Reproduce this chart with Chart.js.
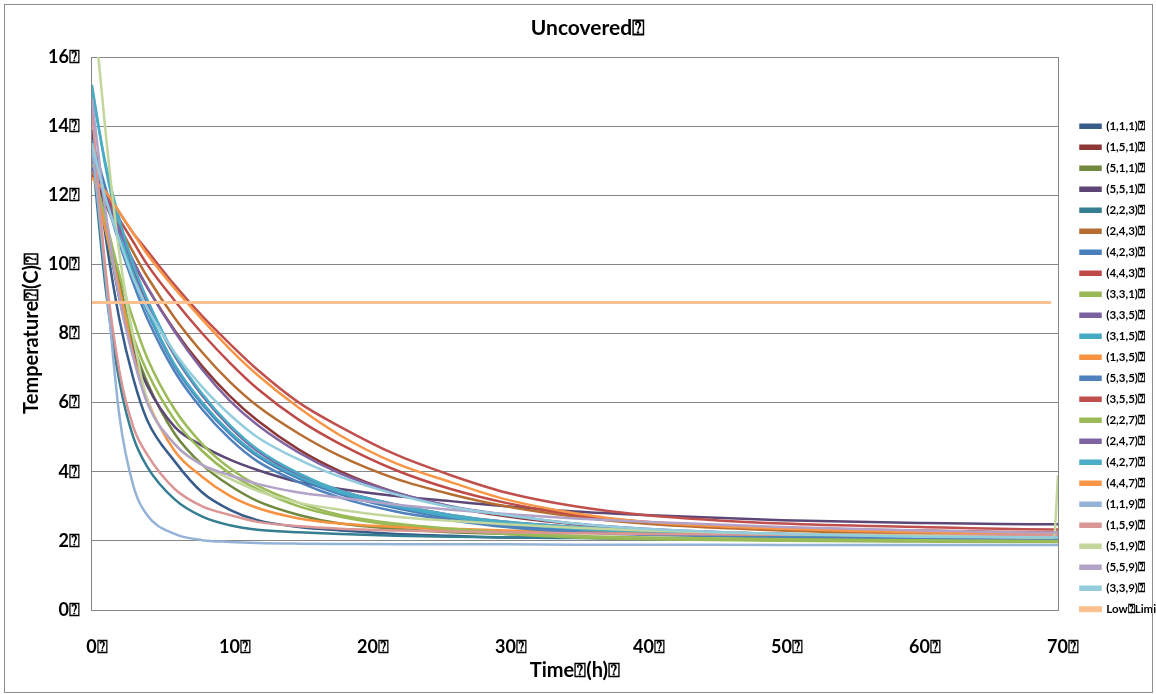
<!DOCTYPE html>
<html>
<head>
<meta charset="utf-8">
<script src="https://cdn.jsdelivr.net/npm/chart.js@4.4.1/dist/chart.umd.min.js"></script>
<style>
  html, body { margin: 0; padding: 0; background: #fff; }
  #wrap { position: relative; width: 1156px; height: 694px; }
  #frame { position: absolute; left: 4px; top: 4px; width: 1147px; height: 687px; border: 1px solid #8c8c8c; pointer-events: none; }
</style>
</head>
<body>
<div id="wrap">
  <canvas id="chart" width="1156" height="694"></canvas>
  <div id="frame"></div>
</div>
<script>
const Q = '\u2370';

// time (h) shared by all runs
const times = [0, 1, 2, 3, 4, 6, 8, 10, 12, 15, 18, 22, 26, 30, 35, 40, 50, 60, 69.7, 70];

const seriesNames = ['(1,1,1)', '(1,5,1)', '(5,1,1)', '(5,5,1)', '(2,2,3)', '(2,4,3)', '(4,2,3)', '(4,4,3)',
  '(3,3,1)', '(3,3,5)', '(3,1,5)', '(1,3,5)', '(5,3,5)', '(3,5,5)', '(2,2,7)', '(2,4,7)', '(4,2,7)', '(4,4,7)',
  '(1,1,9)', '(1,5,9)', '(5,1,9)', '(5,5,9)', '(3,3,9)'];

const colors = ['#385D8A', '#8C3836', '#71893F', '#5C4776', '#357D91', '#B66D31', '#4A7EBB', '#BE4B48',
  '#98B954', '#7D60A0', '#46AAC5', '#F69240', '#4F81BD', '#C0504D', '#9BBB59', '#8064A2', '#4BACC6', '#F79646',
  '#95B3D7', '#D99694', '#C3D69B', '#B3A2C7', '#93CDDD'];

const s111 = [13.9, 10.8, 8.4, 6.7, 5.5, 4.3, 3.4, 2.9, 2.6, 2.4, 2.3, 2.2, 2.15, 2.1, 2.1, 2.05, 2.05, 2.05, 2.05, 2.05];
const s151 = [12.7, 11.74, 10.87, 10.06, 9.34, 8.09, 7.05, 6.19, 5.48, 4.64, 4.01, 3.4, 2.99, 2.71, 2.48, 2.34, 2.19, 2.13, 2.12, 2.12];
const s511 = [13.0, 11.2, 9.5, 7.7, 6.6, 5.1, 4.2, 3.6, 3.15, 2.75, 2.5, 2.35, 2.25, 2.2, 2.12, 2.08, 2.02, 2.0, 2.0, 2.0];
const s551 = [13.8, 11.2, 9.0, 7.5, 6.5, 5.3, 4.75, 4.35, 4.05, 3.7, 3.5, 3.3, 3.15, 3.0, 2.85, 2.75, 2.6, 2.52, 2.48, 2.48];
const s223 = [13.3, 9.3, 6.6, 5.0, 4.15, 3.2, 2.7, 2.45, 2.32, 2.25, 2.2, 2.15, 2.12, 2.1, 2.08, 2.06, 2.04, 2.03, 2.02, 2.02];
const s243 = [12.8, 11.9, 11.1, 10.35, 9.65, 8.45, 7.45, 6.6, 5.9, 5.1, 4.45, 3.8, 3.35, 3.0, 2.7, 2.5, 2.3, 2.22, 2.2, 2.2];
const s423 = [13.6, 12.2, 10.85, 9.65, 8.65, 7.05, 5.95, 5.1, 4.45, 3.8, 3.35, 2.95, 2.65, 2.45, 2.3, 2.22, 2.12, 2.08, 2.06, 2.06];
const s443 = [12.7, 12.0, 11.3, 10.65, 10.0, 8.95, 8.0, 7.15, 6.4, 5.5, 4.8, 4.05, 3.5, 3.1, 2.75, 2.55, 2.35, 2.3, 2.25, 2.25];
const s331 = [13.0, 11.0, 9.2, 7.9, 6.9, 5.5, 4.6, 3.95, 3.5, 3.0, 2.7, 2.45, 2.3, 2.2, 2.1, 2.05, 2.0, 1.98, 1.97, 1.97];
const s335 = [13.0, 12.0, 10.9, 9.85, 8.9, 7.35, 6.2, 5.3, 4.6, 3.9, 3.45, 3.05, 2.75, 2.55, 2.4, 2.3, 2.2, 2.15, 2.12, 2.12];
const s315 = [15.2, 12.8, 11.0, 9.7, 8.7, 7.1, 6.0, 5.15, 4.5, 3.85, 3.4, 3.0, 2.7, 2.5, 2.35, 2.25, 2.15, 2.1, 2.08, 2.08];
const s135 = [12.8, 11.0, 9.3, 7.4, 6.1, 4.6, 3.85, 3.3, 2.95, 2.65, 2.5, 2.4, 2.35, 2.3, 2.25, 2.2, 2.18, 2.16, 2.15, 2.15];
const s535 = [13.3, 11.9, 10.6, 9.45, 8.45, 6.9, 5.8, 4.95, 4.3, 3.7, 3.25, 2.85, 2.6, 2.4, 2.25, 2.18, 2.1, 2.06, 2.05, 2.05];
const s355 = [12.6, 12.1, 11.5, 10.9, 10.4, 9.4, 8.5, 7.7, 6.95, 6.0, 5.3, 4.5, 3.9, 3.4, 3.0, 2.75, 2.5, 2.4, 2.33, 2.33];
const s227 = [12.9, 11.3, 9.7, 8.4, 7.3, 5.8, 4.8, 4.1, 3.6, 3.1, 2.75, 2.5, 2.35, 2.25, 2.15, 2.1, 2.05, 2.02, 2.0, 2.0];
const s247 = [12.8, 11.9, 11.0, 10.1, 9.35, 8.05, 6.95, 6.05, 5.35, 4.55, 3.95, 3.4, 3.0, 2.75, 2.5, 2.35, 2.2, 2.15, 2.12, 2.12];
const s427 = [15.0, 12.9, 11.3, 10.0, 9.0, 7.4, 6.25, 5.35, 4.65, 3.95, 3.45, 3.05, 2.75, 2.55, 2.4, 2.3, 2.2, 2.15, 2.12, 2.12];
const s447 = [12.5, 12.1, 11.5, 10.9, 10.3, 9.3, 8.4, 7.55, 6.8, 5.85, 5.05, 4.25, 3.7, 3.2, 2.8, 2.55, 2.35, 2.25, 2.2, 2.2];
const s119 = [13.5, 9.6, 5.6, 3.6, 2.75, 2.2, 2.02, 1.97, 1.94, 1.92, 1.91, 1.9, 1.9, 1.9, 1.89, 1.89, 1.88, 1.88, 1.88, 1.88];
const s159 = [14.5, 9.8, 6.9, 5.3, 4.5, 3.5, 3.0, 2.75, 2.55, 2.42, 2.35, 2.3, 2.27, 2.25, 2.22, 2.2, 2.18, 2.17, 2.16, 2.16];
const s519 = [18.0, 13.8, 10.3, 7.9, 6.1, 4.8, 4.2, 3.8, 3.45, 3.1, 2.9, 2.7, 2.58, 2.48, 2.38, 2.3, 2.2, 2.15, 2.1, 3.9];
const s559 = [14.8, 11.5, 9.0, 7.3, 6.0, 4.8, 4.2, 3.9, 3.65, 3.4, 3.25, 3.05, 2.9, 2.78, 2.65, 2.55, 2.4, 2.3, 2.24, 2.24];
const s339 = [13.5, 11.9, 10.7, 9.6, 8.75, 7.45, 6.45, 5.65, 5.0, 4.35, 3.85, 3.35, 2.98, 2.75, 2.5, 2.35, 2.2, 2.12, 2.1, 2.1];

const seriesValues = [s111, s151, s511, s551, s223, s243, s423, s443, s331, s335, s315, s135, s535, s355,
  s227, s247, s427, s447, s119, s159, s519, s559, s339];

const lowLimitTimes = [0, 69.5];
const lowLimit = [8.9, 8.9];

const font = 'Lato, "DejaVu Sans", sans-serif';
const grey = '#868686';
const n = seriesValues.length;

const datasets = seriesValues.map((vals, i) => ({
  label: seriesNames[i] + Q,
  data: times.map((t, j) => ({ x: t, y: vals[j] })),
  borderColor: colors[i],
  backgroundColor: colors[i],
  borderWidth: 2.5,
  pointRadius: 0,
  cubicInterpolationMode: 'monotone',
  order: n + 1 - i
}));
datasets.push({
  label: 'Low' + Q + 'Limit' + Q,
  data: lowLimitTimes.map((t, j) => ({ x: t, y: lowLimit[j] })),
  borderColor: '#FAC090',
  backgroundColor: '#FAC090',
  borderWidth: 3,
  pointRadius: 0,
  order: 0
});

new Chart(document.getElementById('chart'), {
  type: 'line',
  data: { datasets },
  options: {
    responsive: false,
    animation: false,
    layout: { padding: { left: 20, right: 0, top: 6, bottom: 11 } },
    plugins: {
      tooltip: { enabled: false },
      title: {
        display: true,
        text: 'Uncovered' + Q,
        color: '#000',
        font: { family: font, size: 21, weight: 'bold' },
        padding: { top: 9.4, bottom: 16.4 }
      },
      legend: {
        position: 'right',
        align: 'center',
        maxWidth: 85,
        title: { display: true, text: '', padding: 16 },
        labels: {
          boxWidth: 20,
          boxHeight: 3,
          padding: 9.5,
          color: '#000',
          font: { family: font, size: 11.5, weight: 'bold' },
          sort: (a, b) => a.datasetIndex - b.datasetIndex
        }
      }
    },
    scales: {
      x: {
        type: 'linear',
        min: 0,
        max: 70,
        ticks: { stepSize: 10, padding: 26, labelOffset: 5, color: '#000',
          font: { family: font, size: 18, weight: 'bold' }, callback: v => v + Q },
        grid: { display: false, drawTicks: false },
        border: { color: grey },
        title: { display: true, text: 'Time' + Q + '(h)' + Q, color: '#000',
          font: { family: font, size: 20, weight: 'bold' }, padding: { top: -24.6, bottom: 0 } }
      },
      y: {
        min: 0,
        max: 16,
        ticks: { stepSize: 2, padding: 12, color: '#000', font: { family: font, size: 18, weight: 'bold' },
          callback: v => v + Q },
        grid: { color: grey, drawTicks: false },
        border: { color: grey },
        title: { display: true, text: 'Temperature' + Q + '(C)' + Q, color: '#000',
          font: { family: font, size: 20, weight: 'bold' }, padding: { top: 0, bottom: -8 } }
      },
      y2: {
        position: 'right',
        min: 0,
        max: 16,
        ticks: { display: false },
        grid: { display: false, drawTicks: false },
        border: { color: grey },
        afterFit: (scale) => { scale.width = 13; }
      }
    }
  }
});
</script>
</body>
</html>
